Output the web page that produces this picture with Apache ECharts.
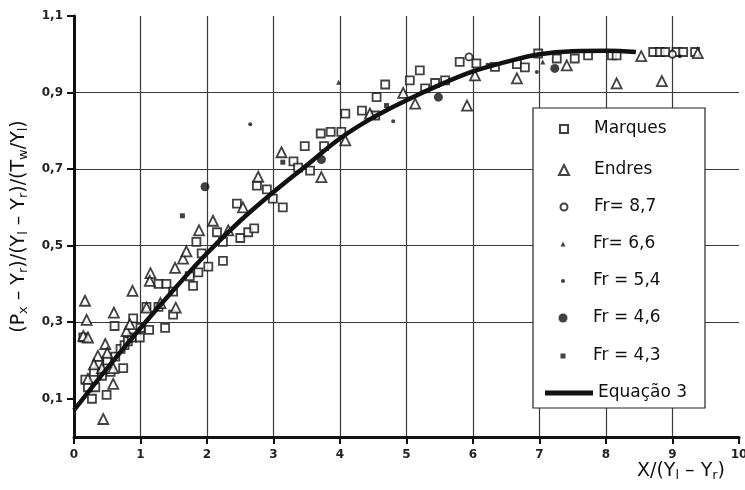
<!DOCTYPE html>
<html>
<head>
<meta charset="utf-8">
<script src="https://cdn.jsdelivr.net/npm/echarts@6/dist/echarts.min.js"></script>
<style>
  html, body { margin: 0; padding: 0; background: #fff; }
  #chart { width: 745px; height: 490px; }
</style>
</head>
<body>
<div id="chart"></div>
<script>
// Tick labels
const xTickValues = [0, 1, 2, 3, 4, 5, 6, 7, 8, 9, 10];
const yTickValues = [0.1, 0.3, 0.5, 0.7, 0.9, 1.1];

// Marques data set (hollow squares)
const marques = [
  [0.14, 0.26], [0.17, 0.15], [0.21, 0.13], [0.27, 0.10], [0.32, 0.13], [0.30, 0.17],
  [0.38, 0.19], [0.42, 0.16], [0.49, 0.11], [0.50, 0.20], [0.55, 0.17], [0.62, 0.21],
  [0.74, 0.18], [0.70, 0.23], [0.76, 0.24], [0.81, 0.25], [0.87, 0.26], [0.61, 0.29],
  [0.89, 0.31], [0.99, 0.26], [1.00, 0.285], [1.13, 0.28], [1.09, 0.34], [1.27, 0.34],
  [1.37, 0.285], [1.27, 0.40], [1.39, 0.40], [1.49, 0.38], [1.49, 0.32], [1.74, 0.42],
  [1.79, 0.395], [1.87, 0.43], [1.92, 0.48], [1.84, 0.51], [2.02, 0.445], [2.24, 0.46],
  [2.15, 0.535], [2.24, 0.51], [2.50, 0.52], [2.62, 0.535], [2.71, 0.545], [2.45, 0.61],
  [2.75, 0.657], [2.90, 0.647], [2.99, 0.623], [3.14, 0.60], [3.30, 0.72], [3.37, 0.704],
  [3.47, 0.76], [3.55, 0.696], [3.71, 0.793], [3.76, 0.76], [3.86, 0.797], [4.02, 0.797],
  [4.08, 0.845], [4.33, 0.853], [4.53, 0.84], [4.55, 0.888], [4.68, 0.921], [5.05, 0.932],
  [5.28, 0.911], [5.20, 0.958], [5.43, 0.925], [5.58, 0.932], [5.80, 0.98], [6.05, 0.976],
  [6.33, 0.967], [6.66, 0.974], [6.78, 0.966], [6.98, 1.002], [7.26, 0.989], [7.53, 0.989],
  [7.73, 0.997], [8.09, 0.997], [8.16, 0.997], [8.71, 1.006], [8.81, 1.006], [8.89, 1.006],
  [9.06, 1.006], [9.16, 1.006], [9.34, 1.006]
];

// Endres data set (hollow triangles)
const endres = [
  [0.165, 0.356], [0.19, 0.306], [0.14, 0.264], [0.21, 0.26], [0.88, 0.382], [0.60, 0.325],
  [1.15, 0.428], [1.14, 0.408], [1.53, 0.338], [1.09, 0.338], [1.30, 0.35], [1.52, 0.442],
  [1.64, 0.466], [1.69, 0.485], [1.88, 0.54], [2.09, 0.565], [2.32, 0.54], [2.54, 0.60],
  [2.77, 0.68], [0.47, 0.243], [0.59, 0.139], [0.44, 0.047], [0.36, 0.212], [0.42, 0.18],
  [0.21, 0.152], [0.59, 0.18], [0.79, 0.277], [0.84, 0.295], [0.30, 0.19], [0.50, 0.22],
  [3.12, 0.744], [3.72, 0.679], [4.08, 0.775], [4.45, 0.845], [4.95, 0.899], [5.13, 0.871],
  [5.91, 0.866], [6.03, 0.945], [6.66, 0.937], [7.41, 0.971], [8.16, 0.924], [8.84, 0.93],
  [8.53, 0.995], [9.38, 1.003]
];

// Froude-number runs
const fr87 = [[5.94, 0.993], [9.00, 1.000]];
const fr66 = [[3.98, 0.927], [7.05, 0.980]];
const fr54 = [[2.65, 0.817], [4.80, 0.825], [6.96, 0.954], [9.11, 0.995]];
const fr46 = [[1.97, 0.654], [3.72, 0.725], [5.48, 0.888], [7.23, 0.963]];
const fr43 = [[1.63, 0.578], [3.14, 0.718], [4.70, 0.866], [6.23, 0.971]];

// Equation 3 curve
const curveX = [0, 0.5, 1, 1.5, 2, 2.5, 3, 3.5, 4, 4.5, 5, 5.5, 6, 6.5, 7, 7.5, 8, 8.45];
const curveY = [0.07, 0.18, 0.285, 0.385, 0.48, 0.565, 0.64, 0.71, 0.78, 0.835, 0.88, 0.92, 0.955, 0.98, 1.0, 1.008, 1.009, 1.006];

const seriesNames = ['Marques', 'Endres', 'Fr= 8,7', 'Fr= 6,6', 'Fr = 5,4', 'Fr = 4,6', 'Fr = 4,3', 'Equação 3'];

const INK = '#111';
const FONT = 'DejaVu Sans';
const comma = v => String(v).replace('.', ',');

const hollow = { color: '#fff', borderColor: INK, borderWidth: 1.8 };
const filled = { color: INK };

// one legend block per entry so each marker keeps its own size;
// icons share a centre column and the labels share a left edge
const ICON_CX = 563, TEXT_X = 593, LEGEND_FONT = 17;
const legendRows = [
  { name: seriesNames[0], cy: 129, size: 8 },
  { name: seriesNames[1], cy: 170, size: 10 },
  { name: seriesNames[2], cy: 207, size: 7 },
  { name: seriesNames[3], cy: 244, size: 5 },
  { name: seriesNames[4], cy: 281, size: 4 },
  { name: seriesNames[5], cy: 318, size: 9 },
  { name: seriesNames[6], cy: 356, size: 5 }
];
const legends = legendRows.map(r => ({
  data: [r.name],
  left: ICON_CX - r.size / 2,
  top: r.cy - 11,
  padding: 0,
  itemWidth: r.size,
  itemHeight: r.size,
  selectedMode: false,
  z: 10,
  textStyle: {
    fontFamily: FONT, fontSize: LEGEND_FONT, color: INK, lineHeight: 22,
    padding: [0, 0, 0, TEXT_X - (ICON_CX + r.size / 2 + 5)]
  }
}));
legends.push({
  data: [{ name: seriesNames[7], icon: 'rect' }],
  left: 545,
  top: 393 - 11,
  padding: 0,
  itemWidth: 48,
  itemHeight: 5,
  selectedMode: false,
  z: 10,
  itemStyle: { color: INK },
  textStyle: { fontFamily: FONT, fontSize: LEGEND_FONT, color: INK, lineHeight: 22 }
});

const subRich = {
  t: { fontFamily: FONT, fontSize: 19, color: INK },
  s: { fontFamily: FONT, fontSize: 13, color: INK, padding: [9, 0, 0, 0] }
};

const option = {
  backgroundColor: '#fff',
  animation: false,
  grid: { left: 74, right: 6, top: 16, bottom: 53, containLabel: false, outerBoundsMode: 'none' },
  graphic: [{
    type: 'rect',
    z: 8,
    shape: { x: 533, y: 108, width: 172, height: 300 },
    style: { fill: '#fff', stroke: '#222', lineWidth: 1.2 }
  }],
  legend: legends,
  xAxis: {
    type: 'value',
    min: 0, max: 10, interval: 0.5,
    name: '{t|X/(Y}{s|l}{t| – Y}{s|r}{t|)}',
    nameLocation: 'end',
    nameGap: -14,
    nameMoveOverlap: false,
    nameTextStyle: { align: 'right', verticalAlign: 'top', padding: [23, 0, 0, 0], rich: subRich },
    axisLine: { show: true, lineStyle: { color: INK, width: 3 } },
    axisTick: { show: true, customValues: xTickValues, length: 7, lineStyle: { color: INK, width: 2 } },
    axisLabel: { customValues: xTickValues, formatter: v => comma(v), margin: 12,
                 fontFamily: FONT, fontSize: 12, fontWeight: 'bold', color: '#222' },
    splitLine: { show: true, showMaxLine: false, lineStyle: { color: '#3a3a3a', width: 1.2 } }
  },
  yAxis: {
    type: 'value',
    min: 0, max: 1.1, interval: 0.05,
    name: '{t|(P}{s|x}{t| – Y}{s|r}{t|)/(Y}{s|l}{t| – Y}{s|r}{t|)/(T}{s|w}{t|/Y}{s|l}{t|)}',
    nameLocation: 'middle',
    nameRotate: 90,
    nameGap: 44,
    nameMoveOverlap: false,
    nameTextStyle: { rich: subRich },
    axisLine: { show: true, lineStyle: { color: INK, width: 3 } },
    axisTick: { show: true, customValues: yTickValues, length: 7, lineStyle: { color: INK, width: 2 } },
    axisLabel: { customValues: yTickValues, formatter: v => comma(v.toFixed(1)), margin: 11,
                 fontFamily: FONT, fontSize: 12, fontWeight: 'bold', color: '#222' },
    splitLine: { show: true, showMaxLine: false, showMinLine: false, lineStyle: { color: '#3a3a3a', width: 1.2 } }
  },
  series: [
    { name: seriesNames[0], type: 'scatter', data: marques, symbol: 'rect', symbolSize: 8, itemStyle: hollow, z: 3 },
    { name: seriesNames[1], type: 'scatter', data: endres, symbol: 'triangle', symbolSize: 10, itemStyle: hollow, z: 3 },
    { name: seriesNames[2], type: 'scatter', data: fr87, symbol: 'circle', symbolSize: 7, itemStyle: hollow, z: 3 },
    { name: seriesNames[3], type: 'scatter', data: fr66, symbol: 'triangle', symbolSize: 5, itemStyle: filled, z: 3 },
    { name: seriesNames[4], type: 'scatter', data: fr54, symbol: 'circle', symbolSize: 4, itemStyle: filled, z: 3 },
    { name: seriesNames[5], type: 'scatter', data: fr46, symbol: 'circle', symbolSize: 9, itemStyle: filled, z: 3 },
    { name: seriesNames[6], type: 'scatter', data: fr43, symbol: 'rect', symbolSize: 5, itemStyle: filled, z: 3 },
    { name: seriesNames[7], type: 'line', data: curveX.map((x, i) => [x, curveY[i]]), smooth: 0.4,
      symbol: 'none', lineStyle: { color: INK, width: 4.5 }, itemStyle: { color: INK }, z: 5 }
  ]
};

echarts.init(document.getElementById('chart'), null, { renderer: 'canvas' }).setOption(option);
</script>
</body>
</html>
